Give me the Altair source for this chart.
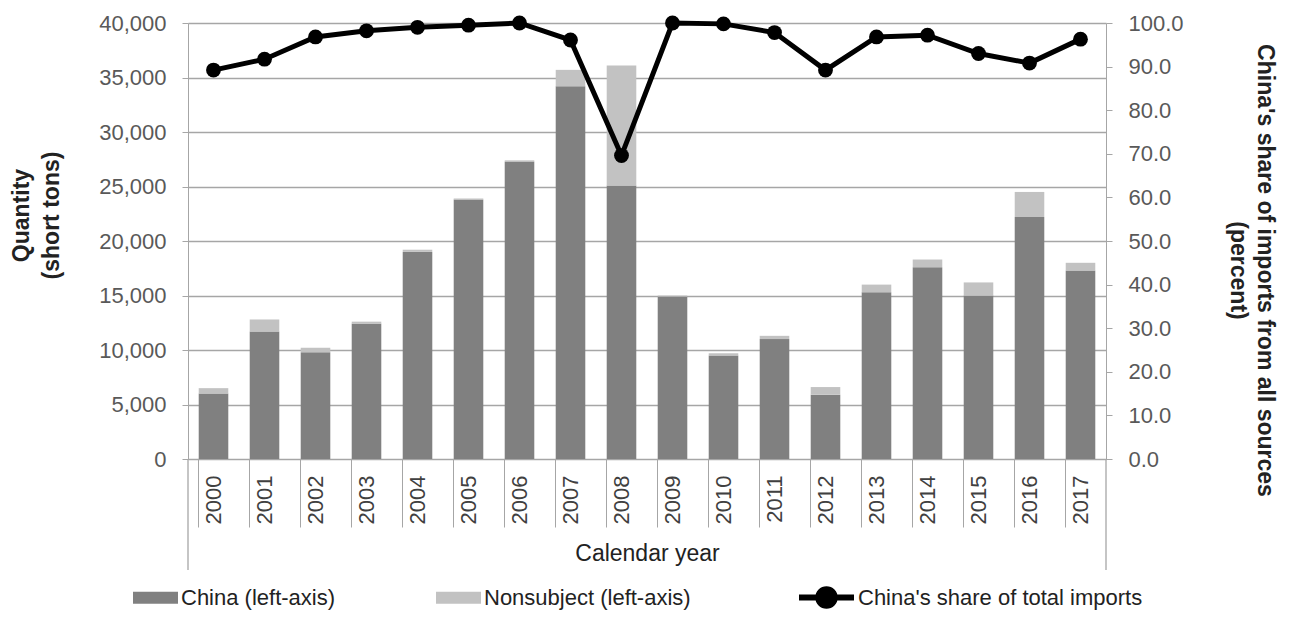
import altair as alt
import pandas as pd

years = [str(y) for y in range(2000, 2018)]
china = [6000, 11700, 9800, 12400, 19000, 23800, 27300, 34200, 25100, 14900,
         9500, 11000, 5900, 15300, 17600, 15000, 22200, 17300]
nonsubject = [500, 1100, 400, 200, 200, 100, 100, 1500, 11000, 100,
              200, 300, 700, 700, 700, 1200, 2300, 700]
share = [89.2, 91.7, 96.8, 98.2, 99.0, 99.5, 100.0, 96.1, 69.6, 100.0,
         99.8, 97.8, 89.2, 96.8, 97.2, 93.0, 90.8, 96.3]
series_names = ["China (left-axis)", "Nonsubject (left-axis)"]
line_name = "China's share of total imports"
left_ticks = list(range(0, 40001, 5000))
right_ticks = list(range(0, 101, 10))

bars_df = pd.DataFrame({
    "year": years * 2,
    "series": [series_names[0]] * len(years) + [series_names[1]] * len(years),
    "qty": china + nonsubject,
    "ord": [0] * len(years) + [1] * len(years),
})
share_df = pd.DataFrame({"year": years, "share": share, "series": [line_name] * len(years)})

FONT = "Liberation Sans"
GRID = "#a6a6a6"

xscale = alt.Scale(paddingInner=0.42, paddingOuter=0.21)

bars = alt.Chart(bars_df).mark_bar().encode(
    x=alt.X("year:N", sort=years, scale=xscale, axis=alt.Axis(
        title="Calendar year", labelAngle=-90, labelAlign="right", labelBaseline="middle",
        labelFontSize=22, labelColor="#404040", labelPadding=-52,
        tickSize=68, tickColor=GRID, domainColor=GRID, bandPosition=0, grid=False,
        titleFontSize=23, titleFontWeight="normal", titleColor="#222222",
        titleY=94, titleBaseline="middle")),
    y=alt.Y("qty:Q", stack="zero", scale=alt.Scale(domain=[0, 40000], nice=False),
            axis=alt.Axis(values=left_ticks, format=",.0f",
                          title=["Quantity", "(short tons)"], titleFontSize=23,
                          titleFontWeight="bold", titleColor="#222222", titleAngle=270,
                          titleBaseline="top", titleAlign="center", titleX=-178, titleY=192,
                          titleLineHeight=30,
                          labelFontSize=22, labelColor="#595959", labelPadding=16,
                          tickSize=6, tickColor=GRID, domainColor=GRID,
                          grid=True, gridColor=GRID, gridWidth=1.3)),
    fill=alt.Fill("series:N", scale=alt.Scale(domain=series_names, range=["#808080", "#c2c2c2"]),
                  legend=alt.Legend(title=None, orient="none", legendX=-55, legendY=552,
                                    direction="horizontal",
                                    symbolType="M-1,-0.27H1V0.27H-1Z", symbolSize=2025,
                                    symbolStrokeWidth=0, labelFontSize=22, labelColor="#222222",
                                    labelOffset=3, columnPadding=100, labelLimit=600)),
    order=alt.Order("ord:Q"),
)

line = alt.Chart(share_df).mark_line(strokeWidth=5).encode(
    x=alt.X("year:N", sort=years, axis=None),
    y=alt.Y("share:Q", scale=alt.Scale(domain=[0, 100], nice=False),
            axis=alt.Axis(orient="right", values=right_ticks, format=".1f",
                          title=["China's share of imports from all sources", "(percent)"],
                          titleFontSize=23, titleFontWeight="bold", titleColor="#222222",
                          titleAngle=90, titleBaseline="top", titleAlign="center",
                          titleX=169, titleY=247, titleLineHeight=27,
                          labelFontSize=22, labelColor="#595959", labelPadding=16,
                          tickSize=6, tickColor=GRID, domainColor=GRID, grid=False)),
    stroke=alt.Stroke("series:N", scale=alt.Scale(domain=[line_name], range=["black"]),
                      legend=alt.Legend(title=None, orient="none", legendX=608, legendY=544,
                                        symbolType="M-1,0H1M0.3,0A0.3,0.3,0,1,1,-0.3,0A0.3,0.3,0,1,1,0.3,0Z",
                                        symbolSize=3025, symbolStrokeWidth=6,
                                        symbolFillColor="black", symbolStrokeColor="black",
                                        labelFontSize=22, labelColor="#222222", labelOffset=1,
                                        labelLimit=600)),
)

pts = alt.Chart(share_df).mark_circle(size=220, color="black", opacity=1).encode(
    x=alt.X("year:N", sort=years, axis=None),
    y=alt.Y("share:Q", scale=alt.Scale(domain=[0, 100], nice=False), axis=None),
)

edge = alt.Chart(alt.Data(values=[{"e": 0}, {"e": 1}])).mark_rule(color=GRID, strokeWidth=1.3).encode(
    x=alt.X("e:Q", scale=alt.Scale(domain=[0, 1], range=[0, 918]), axis=None),
    y=alt.value(436), y2=alt.value(547),
)

chart = alt.layer(bars, line, pts, edge).resolve_scale(y="independent", x="independent").properties(
    width=918, height=436,
    autosize=alt.AutoSizeParams(type="none"),
    padding={"left": 180, "top": 15, "right": 178, "bottom": 151},
).configure(font=FONT).configure_view(strokeWidth=0).configure_axis(
    labelFont=FONT, titleFont=FONT).configure_legend(labelFont=FONT)

chart.save("out.html", embed_options={"renderer": "svg", "actions": False})
